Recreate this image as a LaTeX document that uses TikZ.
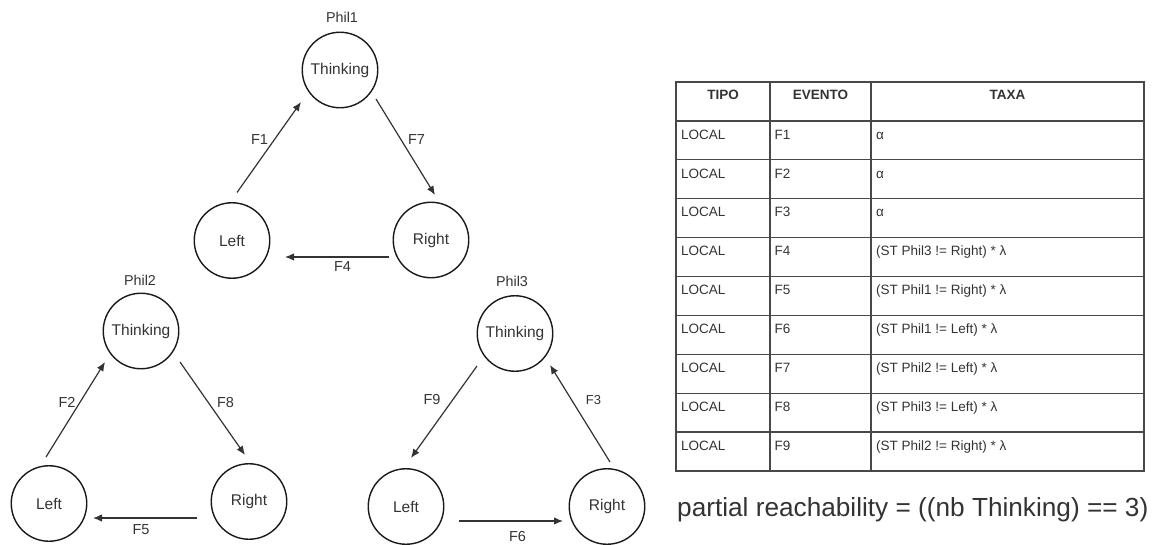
\documentclass[tikz,border=0pt]{standalone}
\usepackage{fontspec}
\setmainfont{Liberation Sans}
\usetikzlibrary{arrows.meta,calc}
\definecolor{ink}{HTML}{333333}
\definecolor{rulegray}{HTML}{484848}
\begin{document}
\begin{tikzpicture}[x=1pt,y=-1pt,
  state/.style={circle,draw=black!90,line width=1.4pt,minimum size=75.5pt,inner sep=0pt,text=ink,font=\fontsize{15.5}{18}\selectfont},
  arr/.style={draw=ink,line width=1.2pt,-{Latex[length=9pt,width=7.5pt]}},
  flab/.style={text=ink,font=\fontsize{14.5}{17}\selectfont,inner sep=0pt},
  phil/.style={text=ink,font=\fontsize{14.3}{17}\selectfont,inner sep=0pt},
  cell/.style={text=ink,font=\fontsize{13.5}{16}\selectfont,inner sep=0pt,anchor=base west},
  head/.style={text=ink,font=\bfseries\fontsize{13.5}{16}\selectfont,inner sep=0pt,anchor=base},
  tline/.style={draw=rulegray,line width=1.3pt}
]
\useasboundingbox (0,0) rectangle (1153,545);

% ---------- Phil1 ----------
\node[phil] (P1) at (342,17.5) {Phil1};
\node[state] (T1) at (340,70) {Thinking};
\node[state] (L1) at (232,240.5) {Left};
\node[state] (R1) at (431,240) {Right};
\draw[arr] ($(L1)+(5,-48)$) -- ($(T1)+(-39,32)$);
\draw[arr] ($(T1)+(36,29)$) -- ($(R1)+(4,-45)$);
\draw[arr] ($(R1)+(-42,17)$) -- ($(L1)+(53,16.5)$);
\node[flab] (f1) at (259.5,140) {F1};
\node[flab] (f7) at (416.5,140) {F7};
\node[flab] (f4) at (342.5,267) {F4};

% ---------- Phil2 ----------
\node[phil] (P2) at (140,280) {Phil2};
\node[state] (T2) at (141,331) {Thinking};
\node[state] (L2) at (49,503.5) {Left};
\node[state] (R2) at (249,501.5) {Right};
\draw[arr] ($(L2)+(-3,-46.5)$) -- ($(T2)+(-36,31)$);
\draw[arr] ($(T2)+(39,31)$) -- ($(R2)+(-4,-46.5)$);
\draw[arr] ($(R2)+(-52,16.5)$) -- ($(L2)+(44,14.5)$);
\node[flab] (f2) at (67,402.5) {F2};
\node[flab] (f8) at (225.5,402.5) {F8};
\node[flab] (f5) at (141,530) {F5};

% ---------- Phil3 ----------
\node[phil] (P3) at (512,281) {Phil3};
\node[state] (T3) at (515,333.5) {Thinking};
\node[state] (L3) at (406,506.5) {Left};
\node[state] (R3) at (607,506.5) {Right};
\draw[arr] ($(T3)+(-38,32.5)$) -- ($(L3)+(5,-48.5)$);
\draw[arr] ($(R3)+(3,-44.5)$) -- ($(T3)+(35,31.5)$);
\draw[arr] ($(L3)+(53,14.5)$) -- ($(R3)+(-44,14.5)$);
\node[flab] (f9) at (432,400) {F9};
\node[flab,font=\fontsize{13}{16}\selectfont] (f3) at (593.5,400) {F3};
\node[flab] (f6) at (517.5,537) {F6};

% ---------- Table ----------
\draw[tline] (676,82) rectangle (1144,471);
\foreach \i in {1,...,9} \draw[tline] (676,{82+38.9*\i}) -- (1144,{82+38.9*\i});
\draw[tline] (770,82) -- (770,471);
\draw[tline] (871,82) -- (871,471);
\node[head] (h1) at (723,100) {TIPO};
\node[head] (h2) at (820.5,100) {EVENTO};
\node[head] (h3) at (1007.5,100) {TAXA};
\foreach \i/\r in {1/α,2/α,3/α,
  4/(ST Phil3 != Right) * λ,
  5/(ST Phil1 != Right) * λ,
  6/(ST Phil1 != Left) * λ,
  7/(ST Phil2 != Left) * λ,
  8/(ST Phil3 != Left) * λ,
  9/(ST Phil2 != Right) * λ}{
  \node[cell] (a\i) at (681,{100.3+38.9*\i}) {LOCAL};
  \node[cell] (b\i) at (774.5,{100.3+38.9*\i}) {F\i};
  \node[cell] (c\i) at (876,{100.3+38.9*\i}) {\r};
}

\node[text=ink,font=\fontsize{26.2}{30}\selectfont,anchor=base west,inner sep=0pt] (pr) at (677,516) {partial reachability = ((nb Thinking) == 3)};
\end{tikzpicture}
\end{document}
